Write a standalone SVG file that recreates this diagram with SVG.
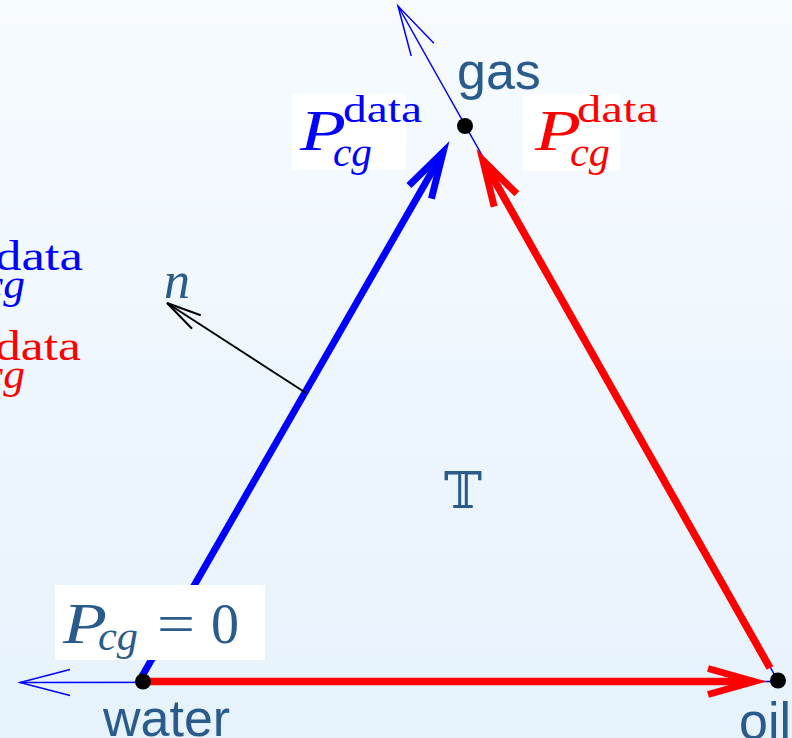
<svg xmlns="http://www.w3.org/2000/svg" width="792" height="738" viewBox="0 0 792 738">
<defs>
<linearGradient id="bg" x1="0" y1="0" x2="0" y2="1">
<stop offset="0" stop-color="#f7fbff"/>
<stop offset="1" stop-color="#e6f2fc"/>
</linearGradient>
<marker id="thinBlue" markerUnits="userSpaceOnUse" orient="auto" overflow="visible" refX="0" refY="0" markerWidth="1" markerHeight="1">
<path d="M-50,-13 L0,0 L-50,13" fill="none" stroke="#0000ff" stroke-width="1.5"/>
</marker>
<marker id="thickBlue" markerUnits="userSpaceOnUse" orient="auto" overflow="visible" refX="0" refY="0" markerWidth="1" markerHeight="1">
<path d="M-40,-13 L6,0 L-40,13" fill="none" stroke="#0000ff" stroke-width="7" stroke-miterlimit="8"/>
</marker>
<marker id="thickRed" markerUnits="userSpaceOnUse" orient="auto" overflow="visible" refX="0" refY="0" markerWidth="1" markerHeight="1">
<path d="M-40,-13 L6,0 L-40,13" fill="none" stroke="#ff0000" stroke-width="7" stroke-miterlimit="8"/>
</marker>
<marker id="normalHead" markerUnits="userSpaceOnUse" orient="auto" overflow="visible" refX="0" refY="0" markerWidth="1" markerHeight="1">
<path d="M-35,-8 L0,0 L-35,8" fill="none" stroke="#000000" stroke-width="2"/>
</marker>
</defs>
<style>
.thin{stroke:#0000ff;stroke-width:1.5;fill:none}
.blue{stroke:#0000ff;stroke-width:7;fill:none}
.red{stroke:#ff0000;stroke-width:7.5;fill:none}
.lbl{font-family:"Liberation Sans",Arial,sans-serif;font-size:52px;fill:#295b8d}
.m{font-family:"Liberation Serif","Times New Roman",serif}
.i{font-style:italic}
.box{fill:#ffffff}
.dot{fill:#000000}
</style>
<rect width="792" height="738" fill="url(#bg)"/>

<g id="connectors">
<line class="thin" x1="778" y1="681" x2="398" y2="6" marker-end="url(#thinBlue)"/>
<line class="thin" x1="778" y1="681.5" x2="20" y2="682.5" marker-end="url(#thinBlue)"/>
<line class="blue" x1="141" y1="678" x2="440.1" y2="157.4" marker-end="url(#thickBlue)"/>
<line class="red" x1="770" y1="668" x2="485.8" y2="165.4" marker-end="url(#thickRed)"/>
<line class="red" x1="143" y1="681.5" x2="748" y2="681.5" marker-end="url(#thickRed)"/>
<line x1="306" y1="393" x2="167" y2="303" stroke="#000000" stroke-width="2" marker-end="url(#normalHead)"/>
</g>

<g id="node-water">
<circle class="dot" cx="143" cy="681.5" r="8"/>
<text class="lbl" x="103" y="736">water</text>
</g>
<g id="node-gas">
<circle class="dot" cx="465" cy="126" r="8"/>
<text class="lbl" x="457" y="89" font-size="54">gas</text>
</g>
<g id="node-oil">
<circle class="dot" cx="778" cy="680.5" r="8"/>
<text class="lbl" x="739" y="739">oil</text>
</g>

<g id="label-blue-top">
<rect class="box" x="292" y="94" width="114" height="76"/>
<text class="m i" x="300" y="150" font-size="56" fill="#0000ff" textLength="46" lengthAdjust="spacingAndGlyphs">P</text>
<text class="m" x="343" y="122" font-size="38" fill="#0000ff" textLength="79" lengthAdjust="spacingAndGlyphs">data</text>
<text class="m i" x="333" y="166" font-size="40" fill="#0000ff" textLength="39" lengthAdjust="spacingAndGlyphs">cg</text>
</g>
<g id="label-red-top">
<rect class="box" x="523" y="94" width="97" height="77"/>
<text class="m i" x="535" y="150" font-size="56" fill="#ff0000" textLength="46" lengthAdjust="spacingAndGlyphs">P</text>
<text class="m" x="577" y="122" font-size="38" fill="#ff0000" textLength="81" lengthAdjust="spacingAndGlyphs">data</text>
<text class="m i" x="570" y="166" font-size="40" fill="#ff0000" textLength="40" lengthAdjust="spacingAndGlyphs">cg</text>
</g>

<g id="label-left">
<text class="m" x="-5" y="270" font-size="42" fill="#0000ff" textLength="88" lengthAdjust="spacingAndGlyphs">data</text>
<text class="m i" x="-16" y="298" font-size="42" fill="#0000ff" textLength="41" lengthAdjust="spacingAndGlyphs">cg</text>
<text class="m" x="-5" y="360" font-size="42" fill="#ff0000" textLength="86" lengthAdjust="spacingAndGlyphs">data</text>
<text class="m i" x="-16" y="388" font-size="42" fill="#ff0000" textLength="41" lengthAdjust="spacingAndGlyphs">cg</text>
</g>

<g id="label-water">
<rect class="box" x="55" y="585" width="210" height="75"/>
<text class="m i" x="63" y="643" font-size="56" fill="#295b8d" textLength="44" lengthAdjust="spacingAndGlyphs">P</text>
<text class="m i" x="98" y="650" font-size="40" fill="#295b8d" textLength="40" lengthAdjust="spacingAndGlyphs">cg</text>
<text class="m" x="157" y="643" font-size="56" fill="#295b8d" textLength="38" lengthAdjust="spacingAndGlyphs">=</text>
<text class="m" x="211" y="643" font-size="56" fill="#295b8d">0</text>
</g>

<g id="label-n">
<text class="m i" x="164" y="298" font-size="52" fill="#295b8d">n</text>
</g>
<g id="label-T">
<text x="444" y="508" font-family="'DejaVu Serif','DejaVu Sans',serif" font-size="51" fill="#295b8d">𝕋</text>
</g>
</svg>
